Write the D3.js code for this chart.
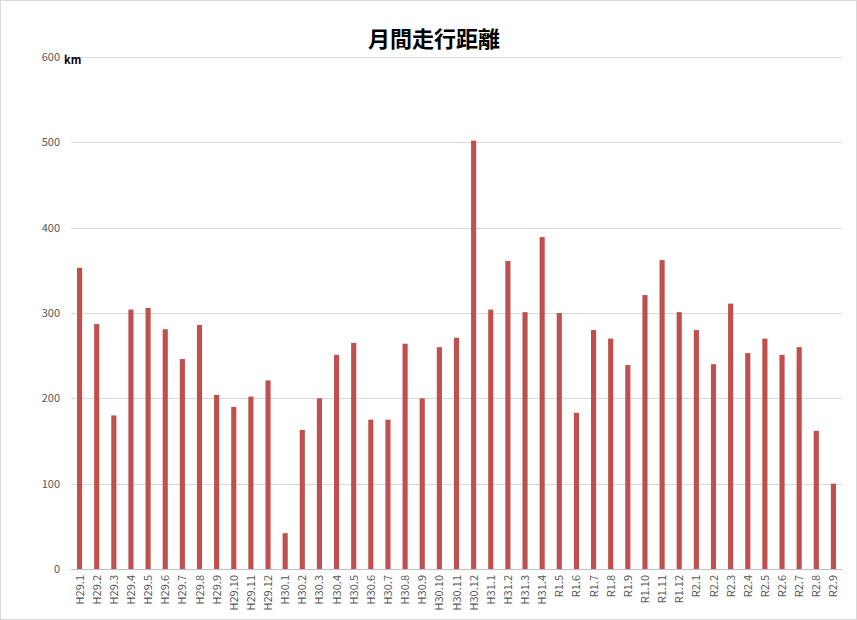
<!DOCTYPE html>
<html><head><meta charset="utf-8">
<script src="https://cdn.jsdelivr.net/npm/d3@7"></script>
<style>
body{margin:0;background:#fff;font-family:"Noto Sans CJK JP","Noto Sans",sans-serif}
</style></head>
<body><div id="chart"></div>
<script>
var months = ["H29.1","H29.2","H29.3","H29.4","H29.5","H29.6","H29.7","H29.8","H29.9","H29.10","H29.11","H29.12",
"H30.1","H30.2","H30.3","H30.4","H30.5","H30.6","H30.7","H30.8","H30.9","H30.10","H30.11","H30.12",
"H31.1","H31.2","H31.3","H31.4","R1.5","R1.6","R1.7","R1.8","R1.9","R1.10","R1.11","R1.12",
"R2.1","R2.2","R2.3","R2.4","R2.5","R2.6","R2.7","R2.8","R2.9"]
var distance = [353,287,180,304,306,281,246,286,204,190,202,221,
42,163,200,251,265,175,175,264,200,260,271,502,
304,361,301,389,300,183,280,270,239,321,362,301,
280,240,311,253,270,251,260,162,100]
var yTicks = [0,100,200,300,400,500,600]

var w = 857, h = 620,
    margin = {top: 57, bottom: 51, left: 71, right: 15}

var svg = d3.select("#chart").append("svg").attr("width", w).attr("height", h)
svg.append("rect").attr("x",0.5).attr("y",0.5).attr("width",w-1).attr("height",h-1)
  .attr("fill","#fff").attr("stroke","#d9d9d9")

var x = d3.scaleBand().domain(months).range([margin.left, w - margin.right]).paddingInner(0.7).paddingOuter(0.35)
var y = d3.scaleLinear().domain([0,600]).range([h - margin.bottom, margin.top])

// gridlines
svg.selectAll("line.grid").data(yTicks).enter().append("line")
  .attr("x1", margin.left).attr("x2", w - margin.right)
  .attr("y1", function(d){ return Math.round(y(d))+0.5 }).attr("y2", function(d){ return Math.round(y(d))+0.5 })
  .attr("stroke", function(d){ return d==0 ? "#bfbfbf" : "#d9d9d9" })

svg.selectAll("text.ytick").data(yTicks).enter().append("text")
  .attr("x", 60).attr("y", function(d){ return y(d) + 4 })
  .attr("text-anchor","end").attr("font-size",11).attr("fill","#595959")
  .text(function(d){ return d })

svg.append("text").attr("x",64).attr("y",64).attr("font-size",11).attr("font-weight","bold")
  .attr("fill","#000").text("km")

svg.selectAll("rect.bar").data(distance).enter().append("rect")
  .attr("x", function(d,i){ return x(months[i]) })
  .attr("width", x.bandwidth())
  .attr("y", function(d){ return y(d) })
  .attr("height", function(d){ return y(0) - y(d) })
  .attr("fill","#c0504d")

svg.selectAll("text.xlab").data(months).enter().append("text")
  .attr("transform", function(d){ return "translate(" + (x(d) + x.bandwidth()/2 + 4) + "," + (y(0) + 6) + ") rotate(-90)" })
  .attr("text-anchor","end").attr("font-size",11).attr("fill","#595959")
  .text(function(d){ return d })

svg.append("text").attr("x", 434).attr("y", 47).attr("text-anchor","middle")
  .attr("font-size",22).attr("font-weight","bold").attr("fill","#000").text("月間走行距離")
</script></body></html>
